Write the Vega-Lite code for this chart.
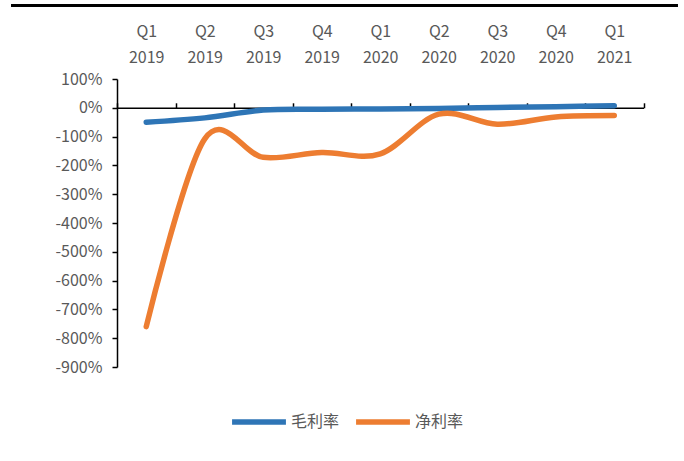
{
  "$schema": "https://vega.github.io/schema/vega-lite/v6.json",
  "width": 526.5,
  "height": 288,
  "autosize": {"type": "none"},
  "padding": {"left": 117, "top": 79, "right": 40.5, "bottom": 94},
  "config": {
    "font": "Noto Sans CJK SC",
    "view": {"stroke": null}
  },
  "datasets": {
    "margins": [
      {"quarter": "Q1 2019", "series": "毛利率", "value": -50},
      {"quarter": "Q2 2019", "series": "毛利率", "value": -35},
      {"quarter": "Q3 2019", "series": "毛利率", "value": -8},
      {"quarter": "Q4 2019", "series": "毛利率", "value": -5},
      {"quarter": "Q1 2020", "series": "毛利率", "value": -4},
      {"quarter": "Q2 2020", "series": "毛利率", "value": -2},
      {"quarter": "Q3 2020", "series": "毛利率", "value": 1},
      {"quarter": "Q4 2020", "series": "毛利率", "value": 4},
      {"quarter": "Q1 2021", "series": "毛利率", "value": 7},
      {"quarter": "Q1 2019", "series": "净利率", "value": -760},
      {"quarter": "Q2 2019", "series": "净利率", "value": -108},
      {"quarter": "Q3 2019", "series": "净利率", "value": -172},
      {"quarter": "Q4 2019", "series": "净利率", "value": -155},
      {"quarter": "Q1 2020", "series": "净利率", "value": -160},
      {"quarter": "Q2 2020", "series": "净利率", "value": -22},
      {"quarter": "Q3 2020", "series": "净利率", "value": -57},
      {"quarter": "Q4 2020", "series": "净利率", "value": -32},
      {"quarter": "Q1 2021", "series": "净利率", "value": -27}
    ],
    "frame": [{"from": -0.2013, "to": 1.0655, "level": 355}]
  },
  "layer": [
    {
      "data": {"name": "frame"},
      "mark": {"type": "rule", "color": "black", "strokeWidth": 3, "strokeCap": "butt", "clip": false},
      "encoding": {
        "x": {"field": "from", "type": "quantitative", "scale": {"domain": [0, 1], "nice": false, "zero": false}, "axis": null},
        "x2": {"field": "to"},
        "y": {
          "field": "level",
          "type": "quantitative",
          "scale": {"domain": [-900, 100], "nice": false, "zero": false},
          "axis": {
            "title": null,
            "grid": false,
            "values": [-900, -800, -700, -600, -500, -400, -300, -200, -100, 0, 100],
            "labelExpr": "datum.value + '%'",
            "domainColor": "black",
            "domainWidth": 1.5,
            "tickColor": "black",
            "tickWidth": 1.5,
            "tickSize": 5,
            "labelPadding": 10,
            "labelFontSize": 16,
            "labelColor": "#595959"
          }
        }
      }
    },
    {
      "data": {"name": "margins"},
      "mark": {"type": "line", "interpolate": "cardinal", "strokeWidth": 5.5, "strokeCap": "round", "strokeJoin": "round", "clip": false},
      "encoding": {
        "x": {
          "field": "quarter",
          "type": "ordinal",
          "scale": {
            "type": "band",
            "domain": ["Q1 2019", "Q2 2019", "Q3 2019", "Q4 2019", "Q1 2020", "Q2 2020", "Q3 2020", "Q4 2020", "Q1 2021"],
            "paddingInner": 0,
            "paddingOuter": 0
          },
          "axis": {
            "orient": "top",
            "offset": -28.8,
            "title": null,
            "grid": false,
            "domainColor": "black",
            "domainWidth": 1.5,
            "ticks": true,
            "tickBand": "extent",
            "tickColor": "black",
            "tickWidth": 1.5,
            "tickSize": 5,
            "labelAngle": 0,
            "labelExpr": "split(datum.label, ' ')",
            "labelLineHeight": 26,
            "labelPadding": 63,
            "labelFontSize": 16,
            "labelColor": "#595959",
            "labelOverlap": false
          }
        },
        "y": {
          "field": "value",
          "type": "quantitative",
          "scale": {"domain": [-900, 100], "nice": false, "zero": false},
          "axis": {
            "title": null,
            "grid": false,
            "values": [-900, -800, -700, -600, -500, -400, -300, -200, -100, 0, 100],
            "labelExpr": "datum.value + '%'",
            "domainColor": "black",
            "domainWidth": 1.5,
            "tickColor": "black",
            "tickWidth": 1.5,
            "tickSize": 5,
            "labelPadding": 10,
            "labelFontSize": 16,
            "labelColor": "#595959"
          }
        },
        "color": {
          "field": "series",
          "type": "nominal",
          "scale": {"domain": ["毛利率", "净利率"], "range": ["#2E75B6", "#ED7D31"]},
          "legend": {
            "orient": "none",
            "legendX": 112,
            "legendY": 313,
            "direction": "horizontal",
            "title": null,
            "symbolType": "stroke",
            "symbolStrokeWidth": 5.5,
            "symbolSize": 2900,
            "labelFontSize": 16,
            "labelColor": "#595959",
            "labelOffset": 2,
            "columnPadding": 5
          }
        }
      }
    }
  ],
  "resolve": {"scale": {"x": "independent"}}
}
